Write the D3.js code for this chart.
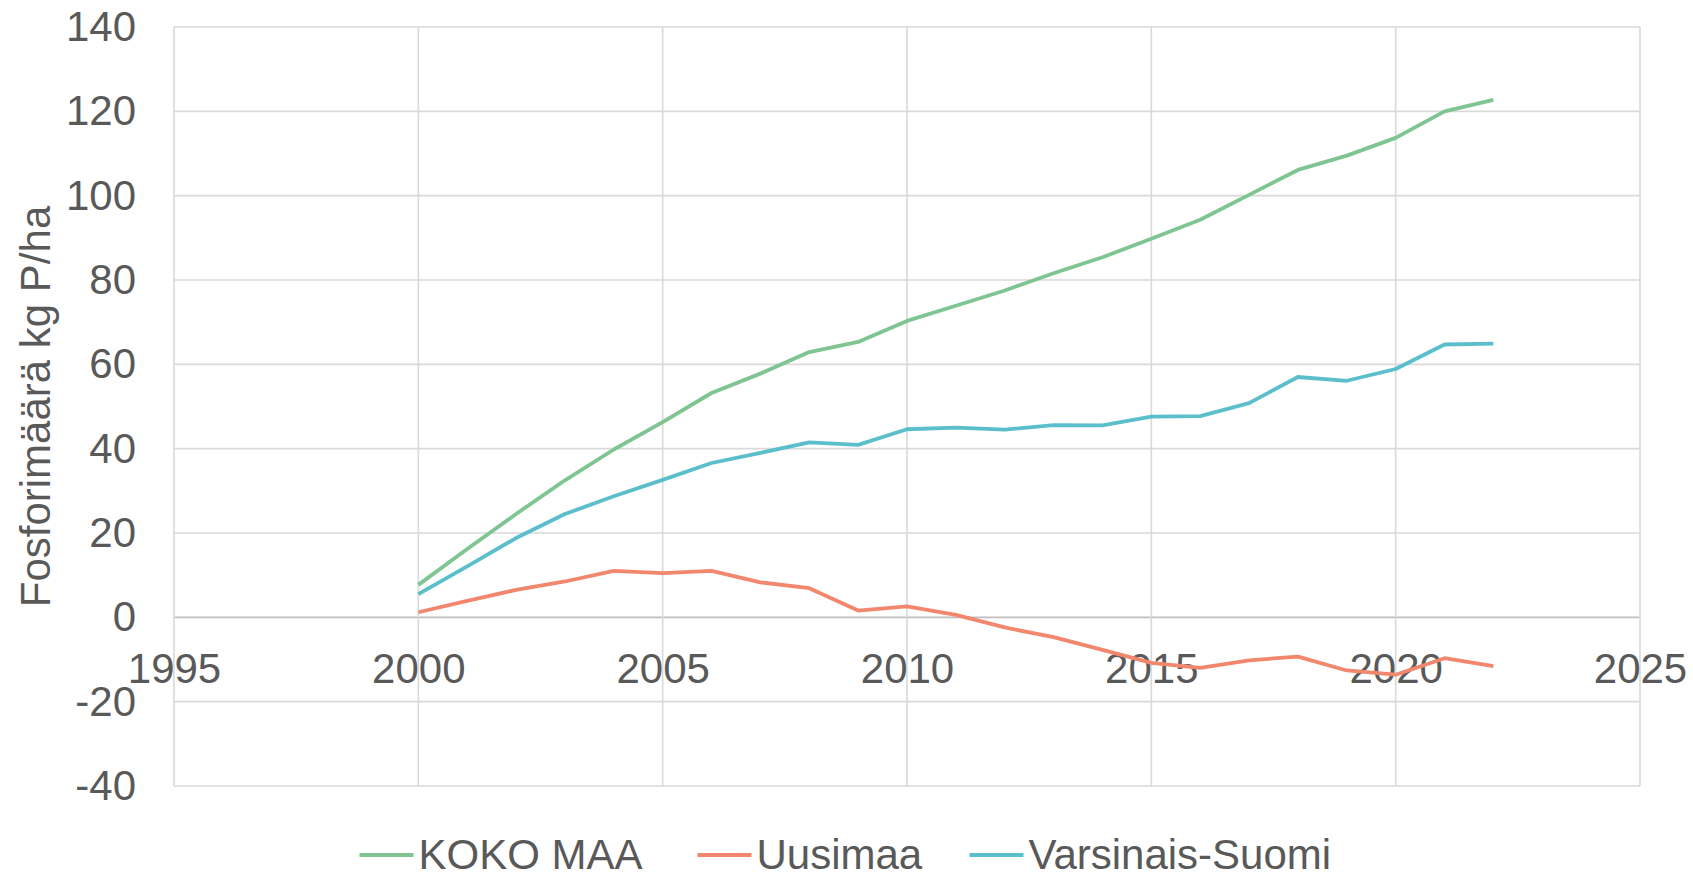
<!DOCTYPE html>
<html><head><meta charset="utf-8">
<script src="https://cdn.jsdelivr.net/npm/d3@7"></script>
<style>body{margin:0;background:#fff}svg{display:block}text{font-family:"Liberation Sans",Arial,sans-serif;fill:#595959}</style>
</head><body>
<svg id="c" width="1693" height="873"></svg>
<script>
const years = d3.range(2000, 2023);
const kokoMaa = [7.7,16.2,24.5,32.5,39.8,46.3,53.2,57.8,62.9,65.3,70.3,73.9,77.5,81.6,85.4,89.8,94.3,100.2,106.1,109.5,113.7,120.0,122.7];
const uusimaa = [1.2,3.9,6.5,8.5,11.0,10.5,11.0,8.3,6.9,1.6,2.6,0.6,-2.4,-4.7,-7.7,-10.8,-12.0,-10.2,-9.3,-12.6,-13.6,-9.7,-11.6];
const varsinaisSuomi = [5.5,12.1,18.8,24.5,28.7,32.6,36.6,39.0,41.5,40.9,44.6,45.0,44.5,45.6,45.5,47.6,47.7,50.8,57.0,56.1,58.9,64.7,64.9];
const seriesNames = ["KOKO MAA","Uusimaa","Varsinais-Suomi"];
const seriesColors = ["#7fc592","#f2876e","#5bbfcb"];
const xTicks = [1995,2000,2005,2010,2015,2020,2025];
const yTicks = [-40,-20,0,20,40,60,80,100,120,140];
const yTitle = "Fosforimäärä kg P/ha";

const svg = d3.select("#c");
const L=174, R=1640, T=27, B=786;
const x = d3.scaleLinear().domain([1995,2025]).range([L,R]);
const y = d3.scaleLinear().domain([-40,140]).range([B,T]);
const fs = 42;

// grid
svg.append("g").selectAll("line.h").data(yTicks).join("line")
  .attr("x1",L).attr("x2",R).attr("y1",d=>y(d)).attr("y2",d=>y(d))
  .attr("stroke",d=>d===0?"#bfbfbf":"#d9d9d9").attr("stroke-width",1.6);
svg.append("g").selectAll("line.v").data(xTicks).join("line")
  .attr("y1",T).attr("y2",B).attr("x1",d=>x(d)).attr("x2",d=>x(d))
  .attr("stroke","#d9d9d9").attr("stroke-width",1.6);

// y axis labels
const ya = d3.axisLeft(y).tickValues(yTicks).tickFormat(d=>String(d)).tickSize(0).tickPadding(38);
svg.append("g").attr("transform",`translate(${L},0)`).call(ya)
  .call(g=>g.select(".domain").remove())
  .call(g=>g.selectAll("text").attr("font-size",fs).attr("fill","#595959").attr("font-family","Liberation Sans, Arial, sans-serif"));

// x axis labels (at zero line)
const xa = d3.axisBottom(x).tickValues(xTicks).tickFormat(d=>String(d)).tickSize(0).tickPadding(36);
svg.append("g").attr("transform",`translate(0,${y(0)})`).call(xa)
  .call(g=>g.select(".domain").remove())
  .call(g=>g.selectAll("text").attr("font-size",fs).attr("fill","#595959").attr("font-family","Liberation Sans, Arial, sans-serif"));

// lines
const line = d3.line().x((d,i)=>x(years[i])).y(d=>y(d));
[kokoMaa,uusimaa,varsinaisSuomi].forEach((s,i)=>{
  svg.append("path").datum(s).attr("d",line).attr("fill","none")
    .attr("stroke",seriesColors[i]).attr("stroke-width",3.8).attr("stroke-linejoin","round");
});

// y title
svg.append("text").attr("transform",`translate(50,${(T+B)/2}) rotate(-90)`)
  .attr("text-anchor","middle").attr("font-size",fs).text(yTitle);

// legend
const legX = [359.5, 697.5, 969.5];
const lg = svg.append("g");
seriesNames.forEach((n,i)=>{
  lg.append("line").attr("x1",legX[i]).attr("x2",legX[i]+54).attr("y1",855).attr("y2",855)
    .attr("stroke",seriesColors[i]).attr("stroke-width",3.8);
  lg.append("text").attr("x",legX[i]+59).attr("y",869).attr("font-size",fs).text(n);
});
</script>
</body></html>
